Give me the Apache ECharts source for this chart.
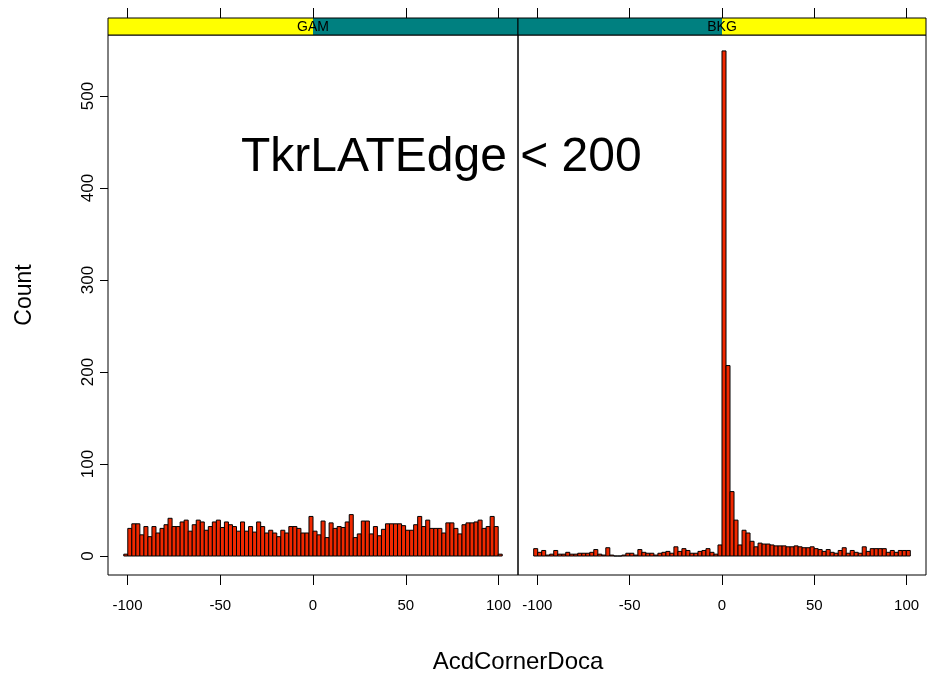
<!DOCTYPE html>
<html><head><meta charset="utf-8">
<script src="https://cdn.jsdelivr.net/npm/echarts@6/dist/echarts.min.js"></script>
<style>html,body{margin:0;padding:0;background:#fff}#c{width:927px;height:675px}</style>
</head><body><div id="c"></div>
<script>
// ---- data ----
const panels = ['GAM', 'BKG'];
const binStart = -102;
const binCount = 94;
const binWidth = 204 / binCount;
const gamCounts = [2, 30,35,35,23,32,21,32,25,30,34, 41,32,32,37,39,27,34,39,37,28,
  32,37,39,31,37,34,32,27,37,27, 32,26,37,32,25,28,25,21,28,25, 32,32,30,25,25,43,
  27,23,38,20,36,30,32,31,37,45, 20,24,38,38,24,32,22,29,35,35,
  35,35,33,28,28,34,43,32,39,30, 30,30,25,36,36,30,24,34,36,36, 37,39,30,32,43,32,2];
const bkgCounts = [8,4,6,1,2,6,2,2,4,2, 2,3,3,3,4,7,2,1,9,1, 0,0,1,3,3,1,7,4,3,3,
  1,3,4,5,3,10,5,8,6,3, 3,5,6,8,4,2,12,
  549,207,70,39,12,28,25,16,10,14,13,13,12,
  11,11,11,10,10,11,10,9,9,10, 8,7,5,7,4,3,6,9,3,6, 4,3,10,5,8,8,8,8,4,6, 4,6,6,6];
const xTicks = [-100, -50, 0, 50, 100];
const yTicks = [0, 100, 200, 300, 400, 500];
const annotation = 'TkrLATEdge < 200';
const xTitle = 'AcdCornerDoca';
const yTitle = 'Count';

// ---- layout ----
const FONT = "'Liberation Sans', Arial, Helvetica, sans-serif";
const grids = [
  {left: 108, top: 35, width: 410, height: 540},
  {left: 518, top: 35, width: 408, height: 540}
];
const xRange = [-110.5, 110.5];
const yRange = [-20.65, 566.3];
const stripH = 17;
const YELLOW = '#ffff00', TEAL = '#008080', BAR = '#f02800';

function binData(counts) {
  return counts.map((c, i) => [binStart + i * binWidth, binStart + (i + 1) * binWidth, c]);
}
function renderBar(params, api) {
  const p0 = api.coord([api.value(0), 0]);
  const p1 = api.coord([api.value(1), api.value(2)]);
  return {
    type: 'rect',
    shape: {x: p0[0], y: p1[1], width: p1[0] - p0[0], height: p0[1] - p1[1]},
    style: {fill: BAR, stroke: '#000', lineWidth: 1}
  };
}

const xAxes = [], yAxes = [], series = [], graphics = [];
grids.forEach((g, i) => {
  xAxes.push({
    gridIndex: i, type: 'value', min: xRange[0], max: xRange[1], position: 'bottom',
    axisLine: {show: false, onZero: false}, splitLine: {show: false},
    axisTick: {show: true, length: 10, customValues: xTicks, lineStyle: {color: '#000'}},
    axisLabel: {show: true, customValues: xTicks, margin: 23, color: '#000', fontSize: 15, fontFamily: FONT}
  });
  xAxes.push({
    gridIndex: i, type: 'value', min: xRange[0], max: xRange[1], position: 'top', offset: stripH,
    axisLine: {show: false, onZero: false}, splitLine: {show: false},
    axisTick: {show: true, length: 10, customValues: xTicks, lineStyle: {color: '#000'}},
    axisLabel: {show: false}
  });
  yAxes.push({
    gridIndex: i, type: 'value', min: yRange[0], max: yRange[1], position: 'left',
    axisLine: {show: false, onZero: false}, splitLine: {show: false},
    axisTick: {show: i === 0, length: 8, customValues: yTicks, lineStyle: {color: '#000'}},
    axisLabel: {show: i === 0, customValues: yTicks, rotate: 90, margin: 11, color: '#000', fontSize: 17, fontFamily: FONT}
  });
  series.push({
    type: 'custom', name: panels[i], xAxisIndex: 2 * i, yAxisIndex: i,
    data: binData(i === 0 ? gamCounts : bkgCounts),
    encode: {x: [0, 1], y: 2},
    renderItem: renderBar, silent: true, clip: false
  });
  // strip
  const half = g.width / 2;
  const first = i === 0 ? YELLOW : TEAL, second = i === 0 ? TEAL : YELLOW;
  graphics.push({type: 'rect', shape: {x: g.left, y: g.top - stripH, width: half, height: stripH}, style: {fill: first}, silent: true});
  graphics.push({type: 'rect', shape: {x: g.left + half, y: g.top - stripH, width: g.width - half, height: stripH}, style: {fill: second}, silent: true});
  graphics.push({type: 'rect', shape: {x: g.left, y: g.top - stripH, width: g.width, height: stripH}, style: {fill: 'none', stroke: '#000', lineWidth: 1}, silent: true});
  graphics.push({type: 'text', x: g.left + half, y: g.top - stripH / 2 + 0.5, style: {text: panels[i], fill: '#000', font: '14px ' + FONT, align: 'center', verticalAlign: 'middle'}, silent: true});
});

graphics.push({type: 'text', x: 241, y: 158, z: 100, style: {text: annotation, fill: '#000', font: '48px ' + FONT, align: 'left', verticalAlign: 'middle'}, silent: true});
graphics.push({type: 'text', x: 518, y: 662, style: {text: xTitle, fill: '#000', font: '24px ' + FONT, align: 'center', verticalAlign: 'middle'}, silent: true});
graphics.push({type: 'text', x: 25, y: 295, rotation: Math.PI / 2, style: {text: yTitle, fill: '#000', font: '23px ' + FONT, align: 'center', verticalAlign: 'middle'}, silent: true});

const chart = echarts.init(document.getElementById('c'), null, {renderer: 'canvas'});
chart.setOption({
  animation: false,
  backgroundColor: '#fff',
  grid: grids.map(g => Object.assign({show: true, borderColor: '#000', borderWidth: 1, backgroundColor: 'transparent'}, g)),
  xAxis: xAxes,
  yAxis: yAxes,
  series: series,
  graphic: graphics
});
</script></body></html>
